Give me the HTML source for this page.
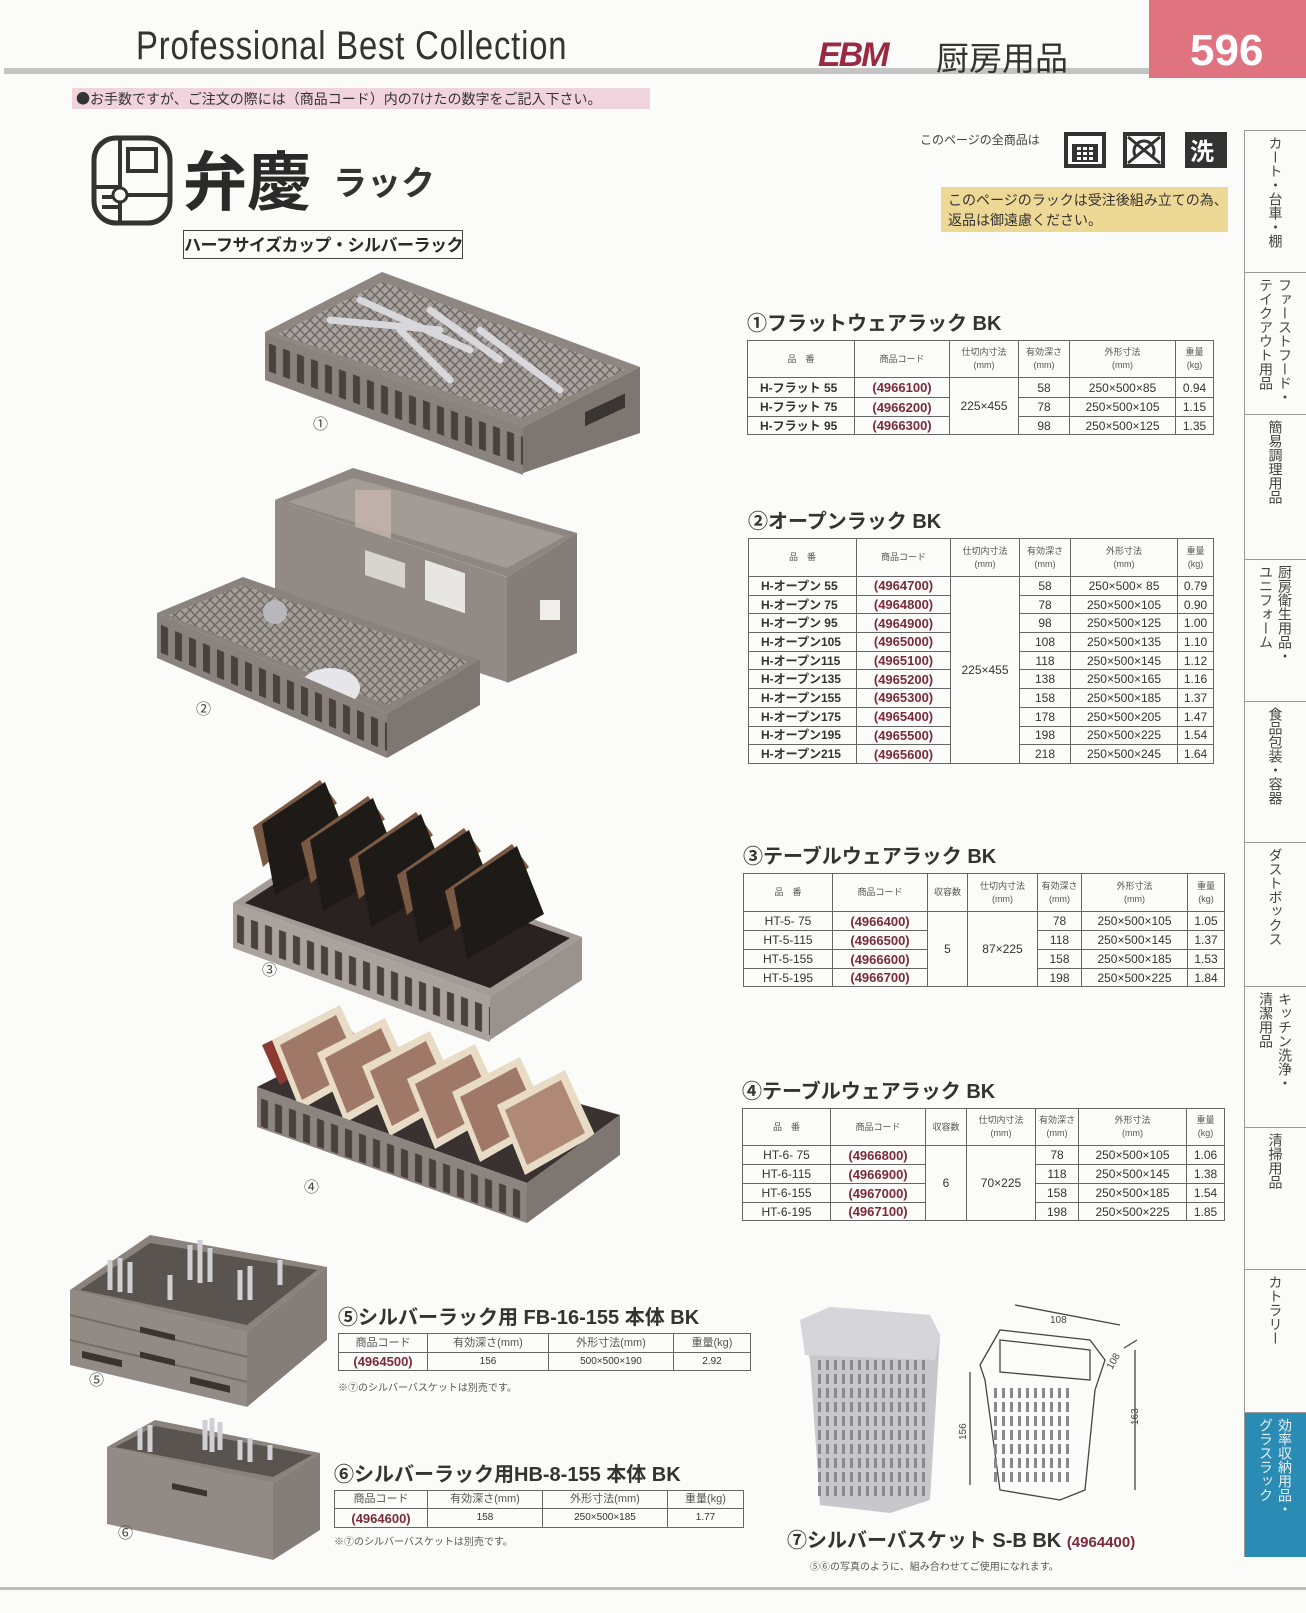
<!DOCTYPE html>
<html><head><meta charset="utf-8">
<style>
*{margin:0;padding:0;box-sizing:border-box}
body{width:1306px;height:1613px;background:#fbfbf9;position:relative;overflow:hidden;font-family:"Liberation Sans","Noto Sans CJK JP",sans-serif;color:#333}
.a{position:absolute;white-space:nowrap}
table{position:absolute;border-collapse:collapse;table-layout:fixed;font-family:"Liberation Sans","Noto Sans CJK JP",sans-serif}
td{border:1px solid #666;text-align:center;padding:0;font-size:12px;color:#333;line-height:1;overflow:hidden;white-space:nowrap}
td.h{font-size:9px;color:#555;line-height:13px}
td.c{color:#7a2a3a;font-weight:bold;font-size:13px}
td.n{font-weight:bold;font-size:12px;text-align:left;padding-left:12px}
.tt{position:absolute;font-weight:bold;font-size:20px;color:#333;white-space:nowrap;font-family:"Liberation Sans","Noto Sans CJK JP",sans-serif}
.side{position:absolute;left:1244px;width:62px;border-top:1px solid #999;writing-mode:vertical-rl;font-size:14px;color:#444;padding-top:5px;display:flex;align-items:center;line-height:19px;font-family:"Noto Sans CJK JP",sans-serif}
</style></head><body>

<!-- header -->
<div class="a" style="left:136px;top:24px;font-size:40px;color:#333;letter-spacing:1px;transform:scaleX(0.82);transform-origin:left top;font-family:'Liberation Sans Narrow','Liberation Sans',sans-serif">Professional Best Collection</div>
<div class="a" style="left:4px;top:68px;width:1146px;height:6px;background:#c4c4c4"></div>
<div class="a" style="left:1149px;top:0;width:157px;height:78px;background:#df7480"></div>
<div class="a" style="left:1190px;top:26px;font-size:44px;font-weight:bold;color:#fff">596</div>
<div class="a" style="left:818px;top:36px;font-size:34px;font-weight:bold;font-style:italic;color:#9a2a44;letter-spacing:-2px">EBM</div>
<div class="a" style="left:936px;top:32px;font-size:33px;color:#333;font-family:'Noto Sans CJK JP',sans-serif">厨房用品</div>
<div class="a" style="left:72px;top:88px;width:578px;height:21px;background:#f1d3dd"></div>
<div class="a" style="left:76px;top:89px;font-size:14px;color:#333;font-family:'Noto Sans CJK JP',sans-serif">●お手数ですが、ご注文の際には（商品コード）内の7けたの数字をご記入下さい。</div>

<!-- logo -->
<svg class="a" style="left:90px;top:135px" width="85" height="92" viewBox="0 0 85 92">
<rect x="4" y="3" width="76" height="85" rx="22" fill="none" stroke="#333" stroke-width="5"/>
<rect x="38" y="14" width="28" height="22" fill="none" stroke="#333" stroke-width="4"/>
<path d="M30 5 V88 M4 52 H30 M12 62 H28 M12 72 H28 M30 60 H80" stroke="#333" stroke-width="4" fill="none"/>
<circle cx="30" cy="60" r="7" fill="#fbfbf9" stroke="#333" stroke-width="3"/>
</svg>
<div class="a" style="left:183px;top:140px;font-size:64px;font-weight:bold;color:#2a2a2a;font-family:'Noto Sans CJK JP',sans-serif;line-height:1.2">弁慶</div>
<div class="a" style="left:333px;top:156px;font-size:34px;font-weight:bold;color:#333;font-family:'Noto Sans CJK JP',sans-serif">ラック</div>
<div class="a" style="left:183px;top:230px;width:280px;height:29px;border:1px solid #444;font-size:17px;font-weight:bold;color:#2a2a2a;line-height:26px;text-align:center;letter-spacing:-0.5px;font-family:'Noto Sans CJK JP',sans-serif">ハーフサイズカップ・シルバーラック</div>

<!-- icons -->
<div class="a" style="left:920px;top:131px;font-size:12px;color:#444;font-family:'Noto Sans CJK JP',sans-serif">このページの全商品は</div>
<svg class="a" style="left:1064px;top:132px" width="165" height="37">
<rect x="0" y="0" width="42" height="36" fill="#333"/><rect x="4" y="4" width="34" height="28" fill="#fff"/><rect x="8" y="12" width="26" height="18" fill="#333"/>
<g fill="#fff"><rect x="13" y="15" width="4" height="3"/><rect x="19" y="15" width="4" height="3"/><rect x="25" y="15" width="4" height="3"/><rect x="13" y="20" width="4" height="3"/><rect x="19" y="20" width="4" height="3"/><rect x="25" y="20" width="4" height="3"/><rect x="13" y="25" width="4" height="3"/><rect x="19" y="25" width="4" height="3"/><rect x="25" y="25" width="4" height="3"/></g>
<rect x="59" y="0" width="42" height="36" fill="#333"/><rect x="63" y="4" width="34" height="28" fill="#fff"/>
<path d="M64 5 L96 31 M96 5 L64 31" stroke="#333" stroke-width="3"/><path d="M72 25 A10 10 0 1 1 88 25" stroke="#333" stroke-width="3" fill="none"/>
<rect x="121" y="0" width="42" height="36" fill="#333"/><text x="126" y="28" font-size="24" font-weight="bold" fill="#fff" font-family="Noto Sans CJK JP">洗</text>
</svg>
<div class="a" style="left:941px;top:187px;width:287px;height:45px;background:#eed896"></div>
<div class="a" style="left:948px;top:190px;font-size:14px;line-height:20px;color:#333;font-family:'Noto Sans CJK JP',sans-serif">このページのラックは受注後組み立ての為、<br>返品は御遠慮ください。</div>

<!-- sidebar -->
<div class="side" style="top:130px;height:142px">カート・台車・棚</div>
<div class="side" style="top:272px;height:142px">ファーストフード・<br>テイクアウト用品</div>
<div class="side" style="top:414px;height:145px">簡易調理用品</div>
<div class="side" style="top:559px;height:142px">厨房衛生用品・<br>ユニフォーム</div>
<div class="side" style="top:701px;height:141px">食品包装・容器</div>
<div class="side" style="top:842px;height:144px">ダストボックス</div>
<div class="side" style="top:986px;height:141px">キッチン洗浄・<br>清潔用品</div>
<div class="side" style="top:1127px;height:142px">清掃用品</div>
<div class="side" style="top:1269px;height:143px">カトラリー</div>
<div class="side" style="top:1412px;height:145px;background:#2a8cb4;color:#e8f0f4">効率収納用品・<br>グラスラック</div>
<div class="a" style="left:1244px;top:130px;width:1px;height:1427px;background:#999"></div>

<!-- Table 1 -->
<div class="tt" style="left:747px;top:307px">①フラットウェアラック BK</div>
<table style="left:747px;top:340px;width:466px">
<colgroup><col style="width:107px"><col style="width:95px"><col style="width:69px"><col style="width:51px"><col style="width:106px"><col style="width:38px"></colgroup>
<tr style="height:37px"><td class="h">品　番</td><td class="h">商品コード</td><td class="h">仕切内寸法<br>(mm)</td><td class="h">有効深さ<br>(mm)</td><td class="h">外形寸法<br>(mm)</td><td class="h">重量<br>(kg)</td></tr>
<tr style="height:20px"><td class="n">H-フラット 55</td><td class="c">(4966100)</td><td rowspan="3">225×455</td><td>58</td><td>250×500×85</td><td>0.94</td></tr>
<tr style="height:19px"><td class="n">H-フラット 75</td><td class="c">(4966200)</td><td>78</td><td>250×500×105</td><td>1.15</td></tr>
<tr style="height:18px"><td class="n">H-フラット 95</td><td class="c">(4966300)</td><td>98</td><td>250×500×125</td><td>1.35</td></tr>
</table>

<!-- Table 2 -->
<div class="tt" style="left:748px;top:505px">②オープンラック BK</div>
<table style="left:748px;top:538px;width:465px">
<colgroup><col style="width:108px"><col style="width:94px"><col style="width:69px"><col style="width:51px"><col style="width:107px"><col style="width:36px"></colgroup>
<tr style="height:38px"><td class="h">品　番</td><td class="h">商品コード</td><td class="h">仕切内寸法<br>(mm)</td><td class="h">有効深さ<br>(mm)</td><td class="h">外形寸法<br>(mm)</td><td class="h">重量<br>(kg)</td></tr>
<tr style="height:18.7px"><td class="n">H-オープン 55</td><td class="c">(4964700)</td><td rowspan="10">225×455</td><td>58</td><td>250×500× 85</td><td>0.79</td></tr>
<tr style="height:18.7px"><td class="n">H-オープン 75</td><td class="c">(4964800)</td><td>78</td><td>250×500×105</td><td>0.90</td></tr>
<tr style="height:18.7px"><td class="n">H-オープン 95</td><td class="c">(4964900)</td><td>98</td><td>250×500×125</td><td>1.00</td></tr>
<tr style="height:18.7px"><td class="n">H-オープン105</td><td class="c">(4965000)</td><td>108</td><td>250×500×135</td><td>1.10</td></tr>
<tr style="height:18.7px"><td class="n">H-オープン115</td><td class="c">(4965100)</td><td>118</td><td>250×500×145</td><td>1.12</td></tr>
<tr style="height:18.7px"><td class="n">H-オープン135</td><td class="c">(4965200)</td><td>138</td><td>250×500×165</td><td>1.16</td></tr>
<tr style="height:18.7px"><td class="n">H-オープン155</td><td class="c">(4965300)</td><td>158</td><td>250×500×185</td><td>1.37</td></tr>
<tr style="height:18.7px"><td class="n">H-オープン175</td><td class="c">(4965400)</td><td>178</td><td>250×500×205</td><td>1.47</td></tr>
<tr style="height:18.7px"><td class="n">H-オープン195</td><td class="c">(4965500)</td><td>198</td><td>250×500×225</td><td>1.54</td></tr>
<tr style="height:18.7px"><td class="n">H-オープン215</td><td class="c">(4965600)</td><td>218</td><td>250×500×245</td><td>1.64</td></tr>
</table>

<!-- Table 3 -->
<div class="tt" style="left:743px;top:840px">③テーブルウェアラック BK</div>
<table style="left:743px;top:873px;width:481px">
<colgroup><col style="width:89px"><col style="width:95px"><col style="width:40px"><col style="width:70px"><col style="width:44px"><col style="width:106px"><col style="width:37px"></colgroup>
<tr style="height:38px"><td class="h">品　番</td><td class="h">商品コード</td><td class="h">収容数</td><td class="h">仕切内寸法<br>(mm)</td><td class="h">有効深さ<br>(mm)</td><td class="h">外形寸法<br>(mm)</td><td class="h">重量<br>(kg)</td></tr>
<tr style="height:19px"><td>HT-5- 75</td><td class="c">(4966400)</td><td rowspan="4">5</td><td rowspan="4">87×225</td><td>78</td><td>250×500×105</td><td>1.05</td></tr>
<tr style="height:19px"><td>HT-5-115</td><td class="c">(4966500)</td><td>118</td><td>250×500×145</td><td>1.37</td></tr>
<tr style="height:19px"><td>HT-5-155</td><td class="c">(4966600)</td><td>158</td><td>250×500×185</td><td>1.53</td></tr>
<tr style="height:18px"><td>HT-5-195</td><td class="c">(4966700)</td><td>198</td><td>250×500×225</td><td>1.84</td></tr>
</table>

<!-- Table 4 -->
<div class="tt" style="left:742px;top:1075px">④テーブルウェアラック BK</div>
<table style="left:742px;top:1108px;width:482px">
<colgroup><col style="width:88px"><col style="width:95px"><col style="width:41px"><col style="width:69px"><col style="width:43px"><col style="width:108px"><col style="width:38px"></colgroup>
<tr style="height:37px"><td class="h">品　番</td><td class="h">商品コード</td><td class="h">収容数</td><td class="h">仕切内寸法<br>(mm)</td><td class="h">有効深さ<br>(mm)</td><td class="h">外形寸法<br>(mm)</td><td class="h">重量<br>(kg)</td></tr>
<tr style="height:19px"><td>HT-6- 75</td><td class="c">(4966800)</td><td rowspan="4">6</td><td rowspan="4">70×225</td><td>78</td><td>250×500×105</td><td>1.06</td></tr>
<tr style="height:19px"><td>HT-6-115</td><td class="c">(4966900)</td><td>118</td><td>250×500×145</td><td>1.38</td></tr>
<tr style="height:19px"><td>HT-6-155</td><td class="c">(4967000)</td><td>158</td><td>250×500×185</td><td>1.54</td></tr>
<tr style="height:18px"><td>HT-6-195</td><td class="c">(4967100)</td><td>198</td><td>250×500×225</td><td>1.85</td></tr>
</table>

<!-- Table 5 -->
<div class="tt" style="left:338px;top:1301px">⑤シルバーラック用 FB-16-155 本体 BK</div>
<table style="left:338px;top:1333px;width:412px">
<colgroup><col style="width:89px"><col style="width:121px"><col style="width:125px"><col style="width:77px"></colgroup>
<tr style="height:19px"><td class="h" style="font-size:11px">商品コード</td><td class="h" style="font-size:11px">有効深さ(mm)</td><td class="h" style="font-size:11px">外形寸法(mm)</td><td class="h" style="font-size:11px">重量(kg)</td></tr>
<tr style="height:18px"><td class="c">(4964500)</td><td style="font-size:10px">156</td><td style="font-size:10px">500×500×190</td><td style="font-size:10px">2.92</td></tr>
</table>
<div class="a" style="left:338px;top:1379px;font-size:10px;color:#555;font-family:'Noto Sans CJK JP',sans-serif">※⑦のシルバーバスケットは別売です。</div>

<!-- Table 6 -->
<div class="tt" style="left:334px;top:1458px">⑥シルバーラック用HB-8-155 本体 BK</div>
<table style="left:334px;top:1490px;width:409px">
<colgroup><col style="width:93px"><col style="width:115px"><col style="width:125px"><col style="width:76px"></colgroup>
<tr style="height:18px"><td class="h" style="font-size:11px">商品コード</td><td class="h" style="font-size:11px">有効深さ(mm)</td><td class="h" style="font-size:11px">外形寸法(mm)</td><td class="h" style="font-size:11px">重量(kg)</td></tr>
<tr style="height:19px"><td class="c">(4964600)</td><td style="font-size:10px">158</td><td style="font-size:10px">250×500×185</td><td style="font-size:10px">1.77</td></tr>
</table>
<div class="a" style="left:334px;top:1533px;font-size:10px;color:#555;font-family:'Noto Sans CJK JP',sans-serif">※⑦のシルバーバスケットは別売です。</div>

<!-- Item 7 -->
<div class="tt" style="left:787px;top:1524px">⑦シルバーバスケット S-B BK <span style="font-size:15px;color:#7a2a3a">(4964400)</span></div>
<div class="a" style="left:810px;top:1558px;font-size:10px;color:#555;font-family:'Noto Sans CJK JP',sans-serif">⑤⑥の写真のように、組み合わせてご使用になれます。</div>
<div class="a" style="left:0;top:1587px;width:1306px;height:3px;background:#bbb"></div>

<!-- photos -->
<svg class="a" style="left:0;top:0" width="1240" height="1613">
<defs>
<pattern id="sl" width="14" height="200" patternUnits="userSpaceOnUse"><rect x="4" y="10" width="7" height="28" fill="#4a403c"/></pattern>
<pattern id="bs" width="8" height="14" patternUnits="userSpaceOnUse"><rect x="2" y="2" width="3" height="10" fill="#8a8a8e"/></pattern>
<pattern id="gr" width="10" height="10" patternUnits="userSpaceOnUse"><path d="M0 0 L10 10 M10 0 L0 10" stroke="#6f6862" stroke-width="1.5"/></pattern>
</defs>

<!-- rack 1 -->
<polygon points="265,332 382,272 640,367 523,427" fill="#8e8680"/>
<polygon points="278,334 382,282 625,370 523,418" fill="#a8a2a0"/>
<polygon points="278,334 382,282 625,370 523,418" fill="url(#gr)"/>
<path d="M330 320 L440 330 M360 300 L470 350 M430 310 L500 360 M480 330 L560 390 M400 330 L450 380" stroke="#d8d8dc" stroke-width="7" stroke-linecap="round"/>
<g transform="translate(265,332) skewY(20.2)"><rect width="258" height="48" fill="#8a827c"/><rect width="258" height="48" fill="url(#sl)"/></g>
<polygon points="523,427 640,367 640,433 523,473" fill="#7e7670"/>
<rect x="585" y="415" width="40" height="14" fill="#3a3432" transform="skewY(-25) translate(0,270)"/>
<text x="313" y="429" font-size="15" fill="#444">①</text>

<!-- rack 2 top -->
<polygon points="275,500 353,468 577,533 507,577" fill="#8e8680"/>
<polygon points="288,502 353,478 565,536 507,568" fill="#a39c96"/>
<rect x="355" y="490" width="36" height="50" fill="#c5b5ae" opacity="0.8"/>
<g transform="translate(275,500) skewY(18.4)"><rect width="232" height="105" fill="#928a84"/><rect x="90" y="20" width="40" height="25" fill="#d8d4d0"/><rect x="150" y="10" width="40" height="40" fill="#e8e6e2"/></g>
<polygon points="507,577 577,533 577,653 507,683" fill="#857d77"/>
<rect x="540" y="600" width="20" height="20" fill="#f0eeea"/>
<!-- rack 2 bottom -->
<polygon points="157,613 243,577 480,660 387,713" fill="#8a827c"/>
<polygon points="168,615 243,585 468,662 387,705" fill="#a49e98"/>
<polygon points="168,615 243,585 468,662 387,705" fill="url(#gr)"/>
<ellipse cx="330" cy="688" rx="30" ry="20" fill="#e6e6ea"/>
<circle cx="275" cy="612" r="12" fill="#b8b8bc"/>
<g transform="translate(157,613) skewY(23.5)"><rect width="230" height="45" fill="#8a827c"/><rect width="230" height="45" fill="url(#sl)"/></g>
<polygon points="387,713 480,660 480,705 387,758" fill="#7e7670"/>
<text x="196" y="714" font-size="15" fill="#444">②</text>

<!-- rack 3 -->
<polygon points="233,903 325,843 582,937 490,997" fill="#a39b95"/>
<polygon points="245,903 325,851 570,938 490,988" fill="#2a2220"/>
<g>
<polygon points="253,827 320,780 337,803 263,867" fill="#7a5a44"/>
<polygon points="262,824 325,782 352,850 275,895" fill="#1e1a18"/>
<polygon points="301,843 368,796 385,819 311,883" fill="#7a5a44"/>
<polygon points="310,840 373,798 400,866 323,911" fill="#1e1a18"/>
<polygon points="349,859 416,812 433,835 359,899" fill="#7a5a44"/>
<polygon points="358,856 421,814 448,882 371,927" fill="#1e1a18"/>
<polygon points="397,875 464,828 481,851 407,915" fill="#7a5a44"/>
<polygon points="406,872 469,830 496,898 419,943" fill="#1e1a18"/>
<polygon points="445,891 512,844 529,867 455,931" fill="#7a5a44"/>
<polygon points="454,888 517,846 544,914 467,959" fill="#1e1a18"/>
</g>
<g transform="translate(233,903) skewY(20.1)"><rect width="257" height="45" fill="#aaa29c"/><rect width="257" height="45" fill="url(#sl)"/></g>
<polygon points="490,997 582,937 582,980 490,1040" fill="#9a928c"/>
<text x="262" y="975" font-size="15" fill="#444">③</text>

<!-- rack 4 -->
<polygon points="257,1087 350,1040 620,1115 527,1183" fill="#3a3230"/>
<g>
<polygon points="262,1045 335,1010 355,1035 280,1085" fill="#8a3a30"/>
<polygon points="272,1040 340,1005 370,1070 300,1110" fill="#e8dcc6"/><polygon points="280,1045 336,1015 360,1068 302,1100" fill="#a07868"/>
<polygon points="317,1053 385,1018 415,1083 345,1123" fill="#e8dcc6"/><polygon points="325,1058 381,1028 405,1081 347,1113" fill="#a07868"/>
<polygon points="362,1066 430,1031 460,1096 390,1136" fill="#e8dcc6"/><polygon points="370,1071 426,1041 450,1094 392,1126" fill="#a07868"/>
<polygon points="407,1079 475,1044 505,1109 435,1149" fill="#e8dcc6"/><polygon points="415,1084 471,1054 495,1107 437,1139" fill="#a07868"/>
<polygon points="452,1092 520,1057 550,1122 480,1162" fill="#e8dcc6"/><polygon points="460,1097 516,1067 540,1120 482,1152" fill="#a07868"/>
<polygon points="497,1105 565,1070 595,1135 525,1175" fill="#e8dcc6"/><polygon points="505,1110 561,1080 585,1133 527,1165" fill="#b08876"/>
</g>
<g transform="translate(257,1087) skewY(19.6)"><rect width="270" height="40" fill="#8c847e"/><rect width="270" height="40" fill="url(#sl)"/></g>
<polygon points="527,1183 620,1115 620,1155 527,1223" fill="#7e7670"/>
<text x="304" y="1192" font-size="15" fill="#444">④</text>

<!-- rack 5 -->
<polygon points="70,1290 150,1235 327,1267 247,1332" fill="#8a827c"/>
<polygon points="80,1290 150,1243 317,1270 247,1325" fill="#5a5450"/>
<g stroke="#d0d0d4" stroke-width="5"><path d="M110 1290 V1260 M120 1292 V1258 M130 1293 V1262 M190 1280 V1245 M200 1283 V1240 M210 1282 V1248 M240 1300 V1270 M250 1300 V1266 M170 1300 V1275 M280 1285 V1260"/></g>
<g transform="translate(70,1290) skewY(13.3)"><rect width="177" height="75" fill="#928a84"/><path d="M0 25 H177 M0 50 H177" stroke="#746c66" stroke-width="2"/><rect x="70" y="20" width="35" height="6" fill="#3a3430"/><rect x="70" y="45" width="35" height="6" fill="#3a3430"/><rect x="12" y="58" width="40" height="7" fill="#3a3430"/><rect x="120" y="58" width="40" height="7" fill="#3a3430"/></g>
<polygon points="247,1332 327,1267 327,1340 247,1407" fill="#857d77"/>
<text x="89" y="1385" font-size="15" fill="#444">⑤</text>

<!-- rack 6 -->
<polygon points="107,1447 155,1420 320,1453 273,1483" fill="#8a827c"/>
<polygon points="115,1447 155,1426 312,1455 273,1477" fill="#5a5450"/>
<g stroke="#d0d0d4" stroke-width="5"><path d="M140 1450 V1428 M150 1452 V1425 M205 1450 V1420 M212 1452 V1418 M220 1450 V1422 M240 1460 V1440 M250 1462 V1438 M270 1460 V1445"/></g>
<g transform="translate(107,1447) skewY(12.2)"><rect width="166" height="77" fill="#928a84"/><rect x="8" y="55" width="158" height="12" fill="url(#sl)"/><rect x="65" y="22" width="35" height="6" fill="#3a3430"/></g>
<polygon points="273,1483 320,1453 320,1530 273,1560" fill="#857d77"/>
<text x="118" y="1538" font-size="15" fill="#444">⑥</text>

<!-- basket photo -->
<polygon points="800,1320 830,1307 930,1315 940,1335 930,1500 890,1513 820,1505 810,1360" fill="#c8c8cc"/>
<rect x="815" y="1360" width="110" height="140" fill="url(#bs)"/>
<polygon points="800,1320 830,1307 930,1315 940,1335 935,1360 805,1355" fill="#d6d6da"/>
<!-- basket drawing -->
<g fill="none" stroke="#444" stroke-width="1.3">
<path d="M980 1365 L1000 1330 L1090 1340 L1105 1360 L1095 1390 L1085 1490 L1060 1500 L1000 1490 L985 1380 Z"/>
<path d="M1000 1340 L1090 1350 L1090 1380 L1000 1372 Z"/>
<path d="M1015 1305 L1120 1325 M1124 1348 L1137 1340 M1135 1350 L1135 1490 M970 1372 L970 1485"/>
</g>
<rect x="990" y="1385" width="80" height="100" fill="url(#bs)"/>
<text x="1050" y="1323" font-size="10" fill="#444">108</text>
<text x="1112" y="1370" font-size="10" fill="#444" transform="rotate(-60 1112 1370)">108</text>
<text x="966" y="1440" font-size="10" fill="#444" transform="rotate(-90 966 1440)">156</text>
<text x="1138" y="1425" font-size="10" fill="#444" transform="rotate(-90 1138 1425)">163</text>
</svg>
</body></html>
